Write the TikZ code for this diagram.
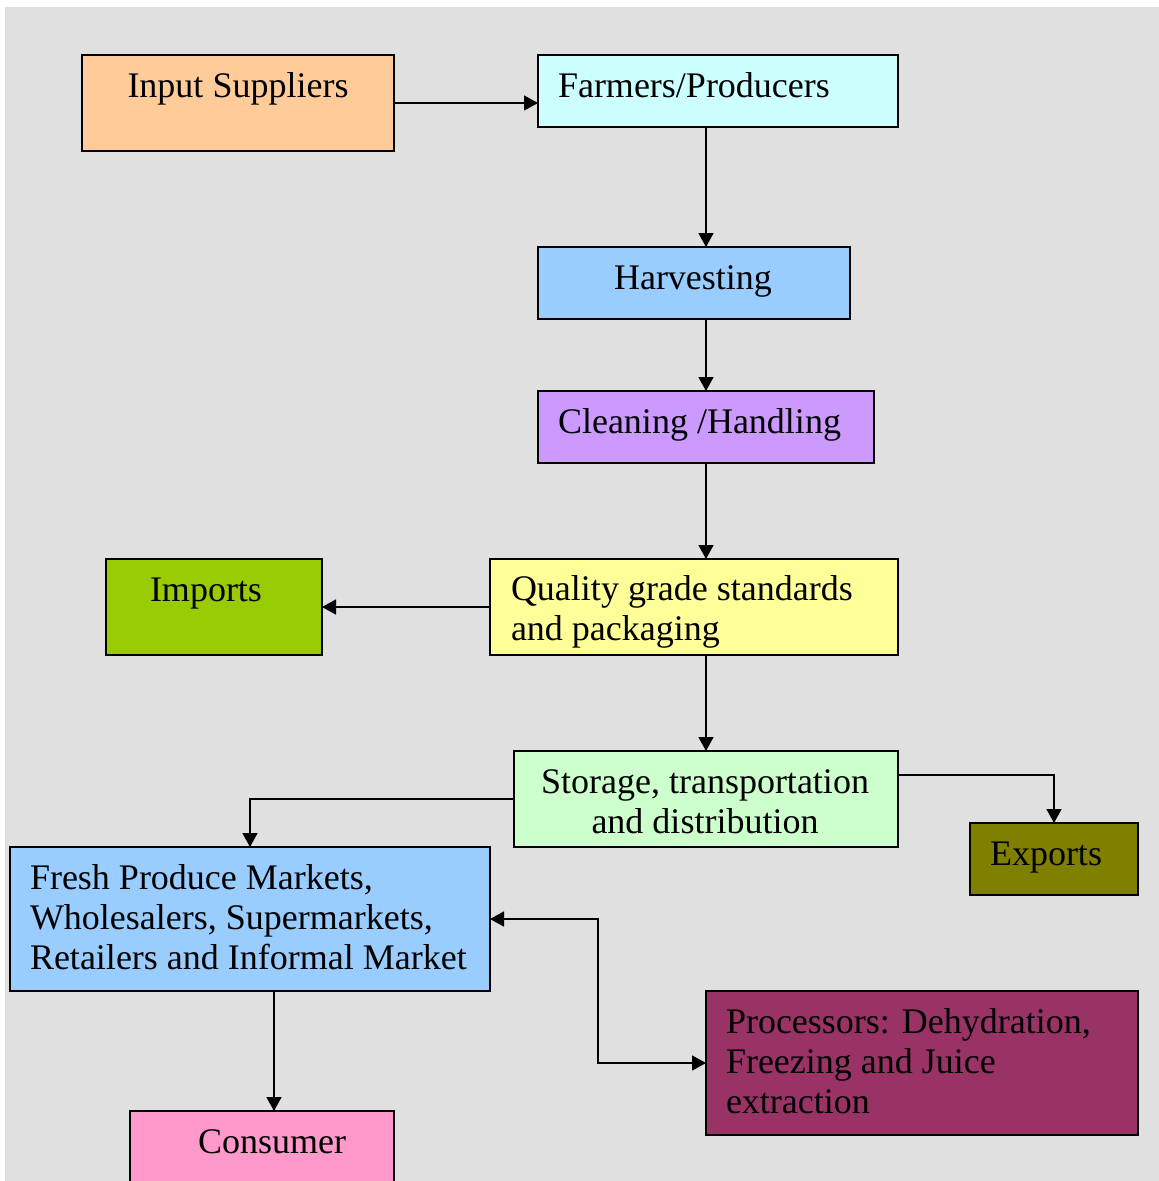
\documentclass[tikz,border=0pt]{standalone}
\usepackage{fontspec}
\setmainfont{Liberation Serif}
\usetikzlibrary{arrows.meta,calc}
\definecolor{bgc}{HTML}{E0E0E0}
\definecolor{cin}{HTML}{FFCC99}
\definecolor{cfarm}{HTML}{CCFFFF}
\definecolor{charv}{HTML}{99CCFF}
\definecolor{cclean}{HTML}{CC99FF}
\definecolor{cimp}{HTML}{99CC00}
\definecolor{cqual}{HTML}{FFFF99}
\definecolor{cstor}{HTML}{CCFFCC}
\definecolor{cexp}{HTML}{808000}
\definecolor{cproc}{HTML}{993366}
\definecolor{ccons}{HTML}{FF99CC}
\begin{document}
\begin{tikzpicture}[x=1pt,y=-1pt,
  box/.style={draw=black,line width=1.8pt,inner sep=0pt,outer sep=0pt},
  lbl/.style={font=\fontsize{36}{40}\selectfont,inner sep=0pt,outer sep=0pt},
  arr/.style={line width=1.6pt,-{Triangle[length=14pt,width=15pt]}},
  dbl/.style={line width=1.6pt,{Triangle[length=14pt,width=15pt]}-{Triangle[length=14pt,width=15pt]}}]
\useasboundingbox (0,0) rectangle (1159,1181);
\clip (0,0) rectangle (1159,1181);
\fill[bgc] (5,7) rectangle (1159,1181);
% boxes
\node[box,fill=cin,minimum width=312pt,minimum height=96pt] (in) at (238,103) {};
\node[box,fill=cfarm,minimum width=360pt,minimum height=72pt] (farm) at (718,91) {};
\node[box,fill=charv,minimum width=312pt,minimum height=72pt] (harv) at (694,283) {};
\node[box,fill=cclean,minimum width=336pt,minimum height=72pt] (clean) at (706,427) {};
\node[box,fill=cimp,minimum width=216pt,minimum height=96pt] (imp) at (214,607) {};
\node[box,fill=cqual,minimum width=408pt,minimum height=96pt] (qual) at (694,607) {};
\node[box,fill=cstor,minimum width=384pt,minimum height=96pt] (stor) at (706,799) {};
\node[box,fill=cexp,minimum width=168pt,minimum height=72pt] (exp) at (1054,859) {};
\node[box,fill=charv,minimum width=480pt,minimum height=144pt] (fresh) at (250,919) {};
\node[box,fill=cproc,minimum width=432pt,minimum height=144pt] (proc) at (922,1063) {};
\node[box,fill=ccons,minimum width=264pt,minimum height=100pt] (cons) at (262,1161) {};
% texts
\node[lbl,anchor=base] (tin) at (238,97) {Input Suppliers};
\node[lbl,anchor=base west] (tfarm) at (558,97) {Farmers/Producers};
\node[lbl,anchor=base] (tharv) at (693,289) {Harvesting};
\node[lbl,anchor=base west] (tclean) at (558,433) {Cleaning /Handling};
\node[lbl,anchor=base] (timp) at (206,601) {Imports};
\node[lbl,anchor=base west] (tqual1) at (511,600) {Quality grade standards};
\node[lbl,anchor=base west] (tqual2) at (511,640) {and packaging};
\node[lbl,anchor=base] (tstor1) at (705,793) {Storage, transportation};
\node[lbl,anchor=base] (tstor2) at (705,833) {and distribution};
\node[lbl,anchor=base west] (texp) at (990,865) {Exports};
\node[lbl,anchor=base west] (tfresh1) at (30,889) {Fresh Produce Markets,};
\node[lbl,anchor=base west] (tfresh2) at (30,929) {Wholesalers, Supermarkets,};
\node[lbl,anchor=base west] (tfresh3) at (30,969) {Retailers and Informal Market};
\node[lbl,anchor=base west] (tproc1) at (726,1033) {Processors: Dehydration,};
\node[lbl,anchor=base west] (tproc2) at (726,1073) {Freezing and Juice};
\node[lbl,anchor=base west] (tproc3) at (726,1113) {extraction};
\node[lbl,anchor=base] (tcons) at (272,1153) {Consumer};
% connectors
\draw[arr] (in.east) -- (in.east -| farm.west);
\draw[arr] (clean.north |- farm.south) -- (clean.north |- harv.north);
\draw[arr] (clean.north |- harv.south) -- (clean.north);
\draw[arr] (clean.south) -- (clean.south |- qual.north);
\draw[arr] (qual.west) -- (imp.east);
\draw[arr] (stor.north |- qual.south) -- (stor.north);
\draw[arr] ([yshift=24pt]stor.east) -| (exp.north);
\draw[arr] (stor.west) -| (fresh.north);
\draw[arr] ([xshift=24pt]fresh.south) -- ([xshift=24pt]fresh.south |- cons.north);
\draw[dbl] (fresh.east) -- ++(108,0) |- (proc.west);
\end{tikzpicture}
\end{document}
